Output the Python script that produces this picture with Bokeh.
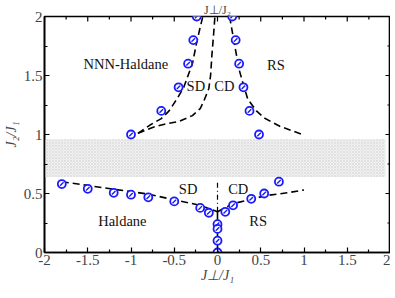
import math
from bokeh.plotting import figure
from bokeh.models import LinearAxis, Range1d, FixedTicker, ColumnDataSource
from bokeh.embed import file_html
from bokeh.resources import INLINE
from bokeh.core.properties import value

# ---- data ----
upper_left_x = [-1.0, -0.65, -0.45, -0.34, -0.28, -0.24]
upper_left_y = [1.0, 1.2, 1.4, 1.6, 1.8, 2.0]
upper_right_x = [0.17, 0.21, 0.25, 0.30, 0.37, 0.48]
upper_right_y = [2.0, 1.8, 1.6, 1.4, 1.2, 1.0]
lower_x = [-1.8, -1.5, -1.2, -1.0, -0.8, -0.5, -0.2, -0.1, 0.09, 0.18, 0.39, 0.54, 0.71]
lower_y = [0.58, 0.54, 0.506, 0.49, 0.468, 0.433, 0.378, 0.337, 0.345, 0.40, 0.455, 0.50, 0.60]
axis_pts_x = [0.0, 0.0, 0.0, 0.0]
axis_pts_y = [0.24, 0.2, 0.1, 0.0]

curve_a_x = [-0.92, -0.78, -0.65, -0.56, -0.47, -0.39, -0.29, -0.235, -0.17]
curve_a_y = [1.01, 1.08, 1.135, 1.2, 1.3, 1.4, 1.6, 1.8, 2.0]
curve_b_x = [-0.92, -0.75, -0.6, -0.45, -0.29, -0.2, -0.16, -0.10, -0.08, -0.065, -0.045, -0.03]
curve_b_y = [1.01, 1.06, 1.09, 1.11, 1.16, 1.22, 1.28, 1.39, 1.5, 1.67, 1.85, 2.0]
curve_c_x = [0.14, 0.2, 0.25, 0.3, 0.35, 0.45, 0.54, 0.72, 0.98]
curve_c_y = [2.0, 1.75, 1.55, 1.42, 1.3, 1.2, 1.14, 1.07, 1.0]
low_left_x = [-1.8, -1.2, -0.8, -0.5, -0.2, 0.0]
low_left_y = [0.6, 0.536, 0.495, 0.446, 0.40, 0.345]
low_right_x = [0.0, 0.18, 0.39, 0.54, 0.81, 1.0]
low_right_y = [0.345, 0.414, 0.45, 0.48, 0.506, 0.53]
dashdot_x = [0.0, 0.0]
dashdot_y = [0.345, 0.6]
solid_x = [0.0, 0.0]
solid_y = [0.0, 0.345]

band_left = [-2.0]
band_right = [1.94]
band_bottom = [0.64]
band_top = [0.96]

region_labels = ["NNN-Haldane", "SD", "CD", "RS", "SD", "CD", "RS", "Haldane"]
region_x = [-1.06, -0.25, 0.08, 0.675, -0.34, 0.24, 0.47, -1.1]
region_y = [1.6, 1.41, 1.41, 1.59, 0.54, 0.54, 0.27, 0.27]

x_major = [-2, -1.5, -1, -0.5, 0, 0.5, 1, 1.5, 2]
x_minor = [-1.75, -1.25, -0.75, -0.25, 0.25, 0.75, 1.25, 1.75]
y_major = [0, 0.5, 1, 1.5, 2]
y_minor = [0.25, 0.75, 1.25, 1.75]
x_tick_labels = {-2: "-2", -1.5: "-1.5", -1: "-1", -0.5: "-0.5", 0: "0", 0.5: "0.5", 1: "1", 1.5: "1.5", 2: "2"}
y_tick_labels = {0: "0", 0.5: "0.5", 1: "1", 1.5: "1.5", 2: "2"}

FONT = "Liberation Serif"
BLUE = "#1a1aff"
X0, X1 = -2, 2
Y0, Y1 = 0, 2

p = figure(frame_width=346, frame_height=236, x_range=Range1d(X0, X1), y_range=Range1d(Y0, Y1),
           output_backend="svg", toolbar_location=None,
           min_border_left=30, min_border_right=0, min_border_top=0, min_border_bottom=0,
           x_axis_location=None, y_axis_location=None,
           title="J⊥/J₂")
p.grid.visible = False
p.outline_line_color = "black"
p.outline_line_width = 1.6
p.background_fill_color = "white"
p.border_fill_color = "white"
p.title.align = "center"
p.title.text_font = FONT
p.title.text_font_style = "normal"
p.title.text_font_size = "12px"
p.title.standoff = 0
p.title.offset = 0


def style(ax, major, minor, labels):
    ax.ticker = FixedTicker(ticks=major, minor_ticks=minor)
    ax.major_tick_in = 5
    ax.major_tick_out = 0
    ax.minor_tick_in = 3
    ax.minor_tick_out = 0
    ax.axis_line_width = 1.6
    ax.major_tick_line_width = 1.2
    ax.minor_tick_line_width = 1.2
    ax.major_label_text_font = FONT
    ax.axis_label_text_font = FONT
    ax.axis_label_text_font_style = "italic"
    ax.axis_label_text_font_size = "14px"
    ax.major_label_overrides = labels
    ax.major_label_text_font_size = "15px"
    ax.major_label_standoff = 2


bottom = LinearAxis(axis_label="J⊥/J₁")
style(bottom, x_major, x_minor, x_tick_labels)
bottom.axis_label_standoff = 0
p.add_layout(bottom, "below")

left = LinearAxis(axis_label="J₂/J₁")
style(left, y_major, y_minor, y_tick_labels)
left.axis_label_standoff = 2
p.add_layout(left, "left")

# mirrored inward ticks on the top and right edges
MAJ_DX, MIN_DX = 0.058, 0.035
MAJ_DY, MIN_DY = 0.043, 0.026
p.segment(x0=x_major, y0=[Y1] * len(x_major), x1=x_major, y1=[Y1 - MAJ_DY] * len(x_major),
          line_color="black", line_width=1.2)
p.segment(x0=x_minor, y0=[Y1] * len(x_minor), x1=x_minor, y1=[Y1 - MIN_DY] * len(x_minor),
          line_color="black", line_width=1.2)
p.segment(x0=[X1] * len(y_major), y0=y_major, x1=[X1 - MAJ_DX] * len(y_major), y1=y_major,
          line_color="black", line_width=1.2)
p.segment(x0=[X1] * len(y_minor), y0=y_minor, x1=[X1 - MIN_DX] * len(y_minor), y1=y_minor,
          line_color="black", line_width=1.2)

# shaded band
p.quad(left=band_left, right=band_right, bottom=band_bottom, top=band_top,
       fill_color="#f2f2f2", line_color=None,
       hatch_pattern="x", hatch_color="#d4d4d4", hatch_scale=3, hatch_weight=0.6)

# boundary lines
dash = "7 4"
p.line(curve_a_x, curve_a_y, line_color="black", line_width=1.6, line_dash=dash)
p.line(curve_b_x, curve_b_y, line_color="black", line_width=1.6, line_dash=dash)
p.line(curve_c_x, curve_c_y, line_color="black", line_width=1.6, line_dash=dash)
p.line(low_left_x, low_left_y, line_color="black", line_width=1.6, line_dash=dash)
p.line(low_right_x, low_right_y, line_color="black", line_width=1.6, line_dash=dash)
p.line(dashdot_x, dashdot_y, line_color="black", line_width=1.2, line_dash="5 3 1 3")
p.line(solid_x, solid_y, line_color="black", line_width=1.6)

# data points
pts_x = upper_left_x + upper_right_x + lower_x + axis_pts_x
pts_y = upper_left_y + upper_right_y + lower_y + axis_pts_y
src = ColumnDataSource(dict(x=pts_x, y=pts_y))
p.scatter("x", "y", source=src, marker="circle", size=8, fill_color="white",
          line_color=BLUE, line_width=1.8)
p.scatter("x", "y", source=src, marker="dash", size=5, angle=math.pi / 4,
          line_color=BLUE, line_width=1.4)

# region labels
lsrc = ColumnDataSource(dict(x=region_x, y=region_y, t=region_labels))
p.text("x", "y", text="t", source=lsrc, text_font=value(FONT), text_font_size="14.5px",
       text_align="center", text_baseline="middle", text_color="#111111")

open("out.html", "w").write(file_html(p, INLINE))
